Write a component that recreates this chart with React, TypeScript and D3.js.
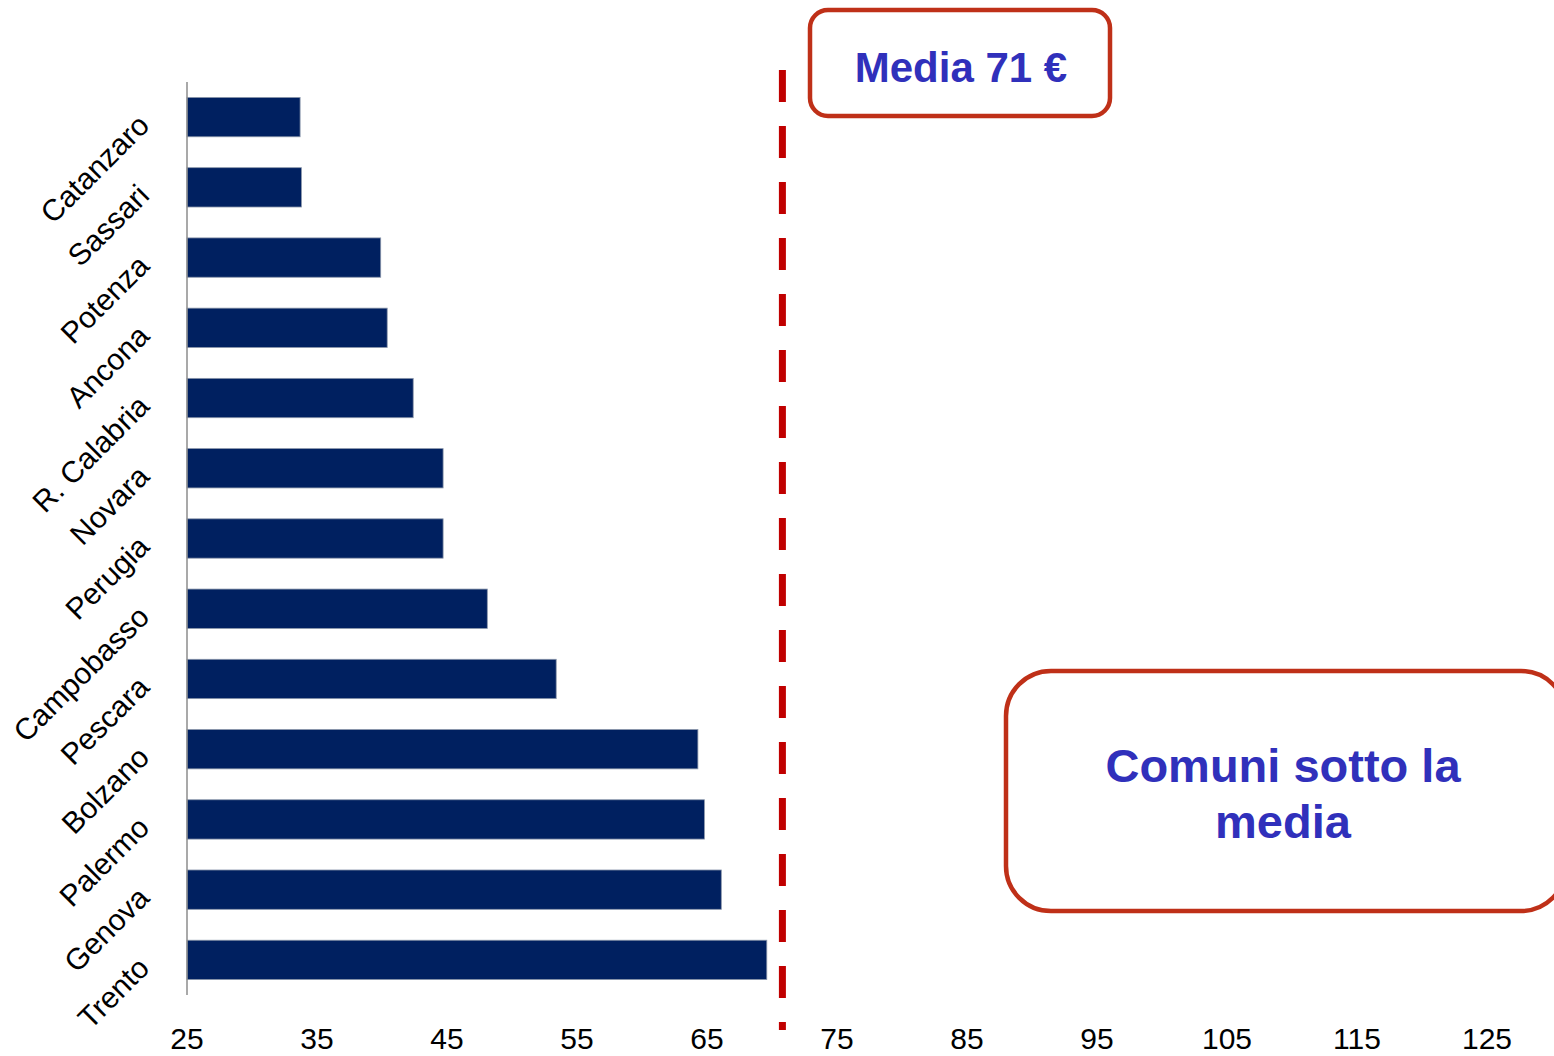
import React, { useEffect, useRef } from 'react';
import * as d3 from 'd3';

const cities = [
  'Catanzaro', 'Sassari', 'Potenza', 'Ancona', 'R. Calabria', 'Novara', 'Perugia',
  'Campobasso', 'Pescara', 'Bolzano', 'Palermo', 'Genova', 'Trento',
];
const values = [33.7, 33.8, 39.9, 40.4, 42.4, 44.7, 44.7, 48.1, 53.4, 64.3, 64.8, 66.1, 69.6];
const xTicks = [25, 35, 45, 55, 65, 75, 85, 95, 105, 115, 125];
const meanValue = 70.8;
const meanLabel = 'Media 71 €';
const noteLines = ['Comuni sotto la', 'media'];

const W = 1554;
const H = 1056;
const FONT = 'Arial, "Liberation Sans", Helvetica, sans-serif';

export default function App() {
  const svgRef = useRef<SVGSVGElement>(null);

  useEffect(() => {
    if (!svgRef.current) return;
    const svg = d3.select(svgRef.current);
    svg.selectAll('*').remove();

    const x = d3.scaleLinear().domain([25, 125]).range([187, 1487]);
    const y = d3.scaleBand<string>()
      .domain(cities)
      .range([82, 995])
      .paddingInner(0.44)
      .paddingOuter(0.22);

    // bars
    svg.append('g')
      .selectAll('rect')
      .data(cities)
      .join('rect')
      .attr('x', x(25))
      .attr('y', d => y(d)!)
      .attr('width', (d, i) => x(values[i]) - x(25))
      .attr('height', y.bandwidth())
      .attr('fill', '#002060')
      .attr('stroke', '#8a96aa')
      .attr('stroke-width', 0.8);

    // vertical axis line
    svg.append('line')
      .attr('x1', x(25)).attr('x2', x(25))
      .attr('y1', 82).attr('y2', 995)
      .attr('stroke', '#8c8c8c')
      .attr('stroke-width', 1.5);

    // category labels, rotated
    svg.append('g')
      .selectAll('text')
      .data(cities)
      .join('text')
      .attr('transform', d => `translate(151,${y(d)! + y.bandwidth() / 2 + 10}) rotate(-45)`)
      .attr('text-anchor', 'end')
      .attr('font-family', FONT)
      .attr('font-size', 30)
      .attr('fill', '#000')
      .text(d => d);

    // x tick labels
    svg.append('g')
      .selectAll('text')
      .data(xTicks)
      .join('text')
      .attr('x', d => x(d))
      .attr('y', 1049)
      .attr('text-anchor', 'middle')
      .attr('font-family', FONT)
      .attr('font-size', 30)
      .attr('fill', '#000')
      .text(d => d);

    // mean line
    svg.append('line')
      .attr('x1', x(meanValue)).attr('x2', x(meanValue))
      .attr('y1', 70).attr('y2', 1030)
      .attr('stroke', '#c00000')
      .attr('stroke-width', 7)
      .attr('stroke-dasharray', '32 24');

    // mean label box
    svg.append('rect')
      .attr('x', 810).attr('y', 10)
      .attr('width', 300).attr('height', 106)
      .attr('rx', 18)
      .attr('fill', '#fff')
      .attr('stroke', '#bf3018')
      .attr('stroke-width', 4.5);
    svg.append('text')
      .attr('x', 961).attr('y', 82)
      .attr('text-anchor', 'middle')
      .attr('font-family', FONT)
      .attr('font-weight', 'bold')
      .attr('font-size', 42)
      .attr('fill', '#3030bb')
      .text(meanLabel);

    // note box
    svg.append('rect')
      .attr('x', 1006).attr('y', 671)
      .attr('width', 560).attr('height', 240)
      .attr('rx', 45)
      .attr('fill', '#fff')
      .attr('stroke', '#bf3018')
      .attr('stroke-width', 4.5);
    svg.append('text')
      .attr('text-anchor', 'middle')
      .attr('font-family', FONT)
      .attr('font-weight', 'bold')
      .attr('font-size', 47)
      .attr('fill', '#3030bb')
      .selectAll('tspan')
      .data(noteLines)
      .join('tspan')
      .attr('x', 1283)
      .attr('y', (d, i) => 782 + i * 56)
      .text(d => d);
  }, []);

  return (
    <svg
      ref={svgRef}
      width={W}
      height={H}
      style={{ position: 'absolute', left: 0, top: 0, background: '#fff' }}
    />
  );
}
